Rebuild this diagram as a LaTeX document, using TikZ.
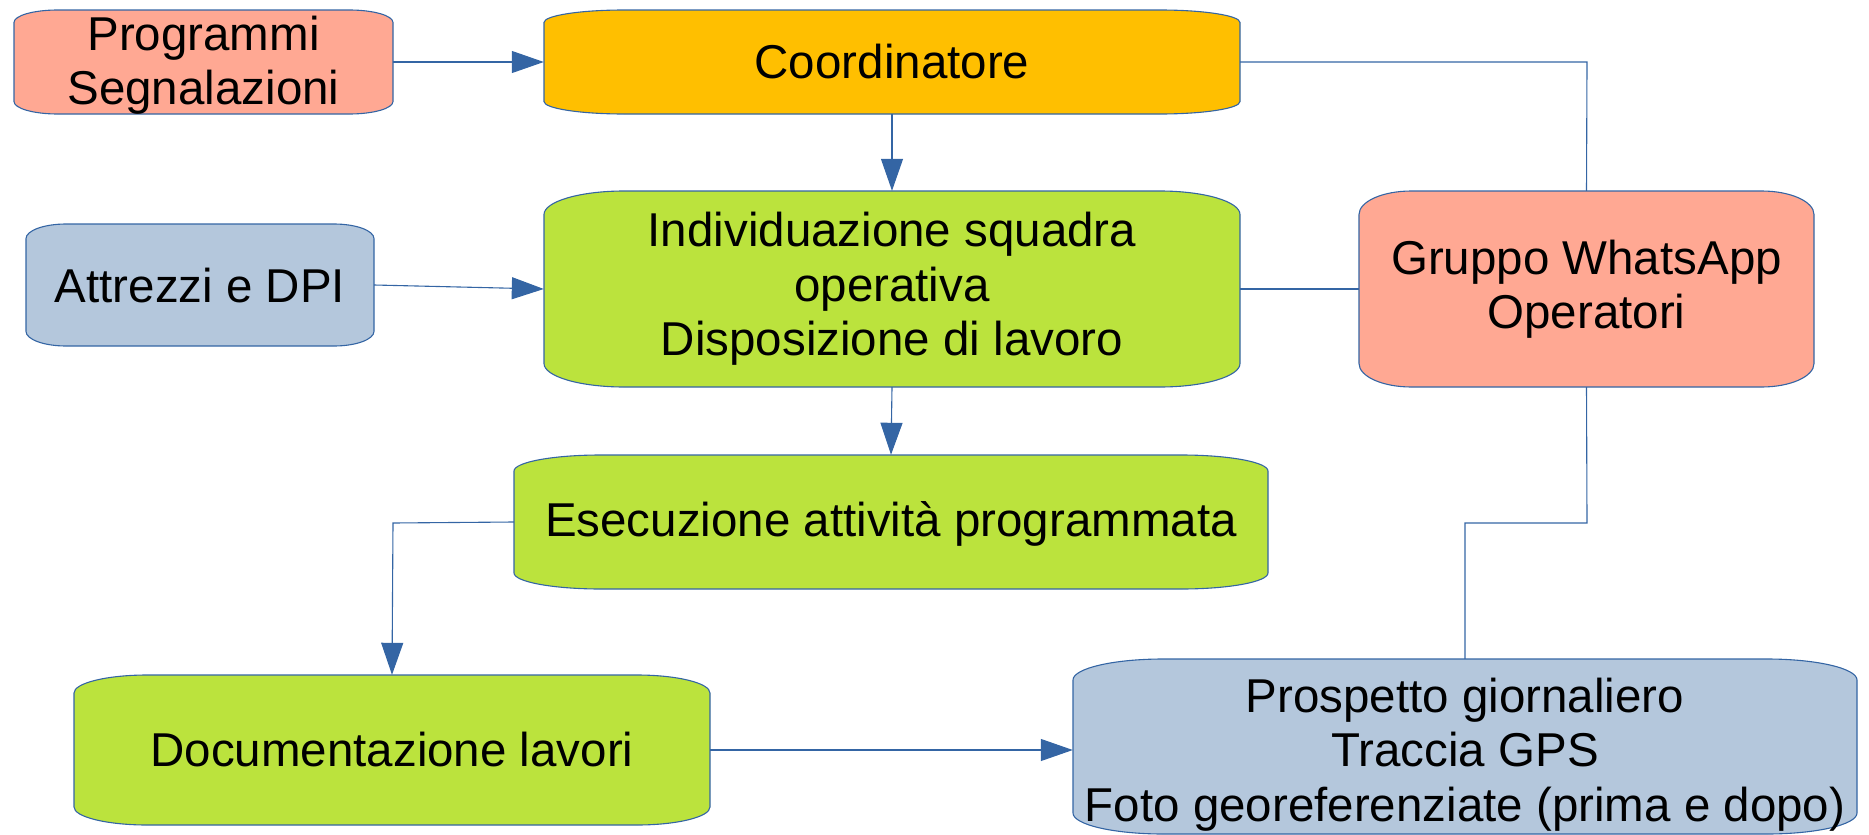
\documentclass[tikz,border=0pt]{standalone}
\usepackage{fontspec}
\setmainfont{Liberation Sans}
\usetikzlibrary{arrows.meta}
\definecolor{lineblue}{HTML}{3465A4}
\definecolor{salmon}{HTML}{FFA893}
\definecolor{gold}{HTML}{FFBF00}
\definecolor{lime}{HTML}{BBE33D}
\definecolor{greyblue}{HTML}{B4C7DC}
\newcommand\ebox[8]{%
  \pgfmathsetmacro\ebrx{0.115*(#4-#2)}%
  \pgfmathsetmacro\ebry{0.12*(#5-#3)}%
  \pgfmathsetmacro\ebw{#4-#2}%
  \pgfmathsetmacro\ebh{#5-#3}%
  \path[boxline,fill=#6]
    (#2,#3+\ebry) .. controls (#2,#3+0.448*\ebry) and (#2+0.448*\ebrx,#3) .. (#2+\ebrx,#3)
    -- (#4-\ebrx,#3) .. controls (#4-0.448*\ebrx,#3) and (#4,#3+0.448*\ebry) .. (#4,#3+\ebry)
    -- (#4,#5-\ebry) .. controls (#4,#5-0.448*\ebry) and (#4-0.448*\ebrx,#5) .. (#4-\ebrx,#5)
    -- (#2+\ebrx,#5) .. controls (#2+0.448*\ebrx,#5) and (#2,#5-0.448*\ebry) .. (#2,#5-\ebry)
    -- cycle;
  \node[inner sep=0pt,minimum width=\ebw pt,minimum height=\ebh pt] (#1) at ({(#2+#4)/2},{(#3+#5)/2}) {};%
  \node[boxtext] (#1-text) at ({(#2+#4)/2},{(#3+#5)/2+#8}) {#7};%
}
\tikzset{
  boxline/.style={draw=lineblue,line width=1.1pt},
  boxtext/.style={inner sep=0pt,align=center,font=\fontsize{47.5}{54.5}\selectfont},
  conn/.style={draw=lineblue,line width=1.1pt},
  arr/.style={conn,-{Triangle[length=32pt,width=22pt]}}
}
\begin{document}
\begin{tikzpicture}[x=1pt,y=-1pt]
\useasboundingbox (0,0) rectangle (1869,835);
\ebox{prog}{14}{10}{393}{114}{salmon}{Programmi\\Segnalazioni}{3}
\ebox{coord}{544}{10}{1240}{114}{gold}{Coordinatore}{0}
\ebox{attr}{26}{224}{374}{346}{greyblue}{Attrezzi e DPI}{1}
\ebox{indiv}{544}{191}{1240}{387}{lime}{Individuazione squadra\\operativa\\Disposizione di lavoro}{0}
\ebox{whats}{1359}{191}{1814}{387}{salmon}{Gruppo WhatsApp\\Operatori}{0}
\ebox{esec}{514}{455}{1268}{589}{lime}{Esecuzione attività programmata}{2}
\ebox{doc}{74}{675}{710}{825}{lime}{Documentazione lavori}{0}
\ebox{prosp}{1073}{659}{1857}{834}{greyblue}{Prospetto giornaliero\\Traccia GPS\\Foto georeferenziate (prima e dopo)}{8}
\coordinate (k1) at (1587,62);
\coordinate (k2) at (393,523);
\coordinate (k3) at (1587,523);
\coordinate (k4) at (1465,523);
\draw[arr] (prog.east) -- (coord.west);
\draw[arr] (coord.south) -- (indiv.north);
\draw[arr] (attr.east) -- (indiv.west);
\draw[arr] (indiv.south) -- (esec.north);
\draw[arr] (esec.west) -- (k2) -- (doc.north);
\draw[arr] (doc.east) -- (prosp.west |- doc.east);
\draw[conn] (coord.east) -- (k1) -- (whats.north);
\draw[conn] (indiv.east) -- (whats.west |- indiv.east);
\draw[conn] (whats.south) -- (k3) -- (k4) -- (prosp.north);
\end{tikzpicture}
\end{document}
